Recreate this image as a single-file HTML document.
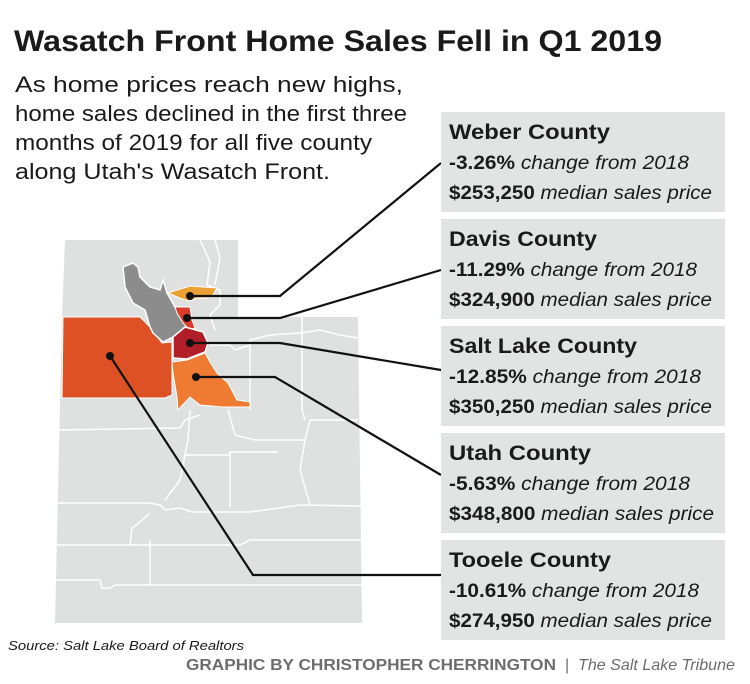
<!DOCTYPE html>
<html><head><meta charset="utf-8"><style>
html,body{margin:0;padding:0;background:#fff;}
svg{display:block;font-family:"Liberation Sans",sans-serif;}
</style></head><body>
<svg width="750" height="684" viewBox="0 0 750 684">
<rect width="750" height="684" fill="#fff"/>
<text x="14" y="51" font-size="30" font-weight="bold" fill="#1a1a1a" textLength="648" lengthAdjust="spacingAndGlyphs">Wasatch Front Home Sales Fell in Q1 2019</text>
<g font-size="22" fill="#1a1a1a">
<text x="15" y="92" textLength="388" lengthAdjust="spacingAndGlyphs">As home prices reach new highs,</text>
<text x="15" y="121" textLength="392" lengthAdjust="spacingAndGlyphs">home sales declined in the first three</text>
<text x="15" y="150" textLength="357" lengthAdjust="spacingAndGlyphs">months of 2019 for all five county</text>
<text x="15" y="179" textLength="315" lengthAdjust="spacingAndGlyphs">along Utah's Wasatch Front.</text>
</g>
<!-- state -->
<polygon points="65,240 238,240 238,317 358,317 362,623 55,623 62,317" fill="#dfe0e0"/>
<g stroke="#fff" stroke-width="1.5" fill="none">
<polyline points="55,430 180,428 185,420 200,415"/>
<polyline points="55,503 150,503 160,505 165,510 180,508 192,512 250,512 300,505 362,506"/>
<polyline points="55,545 240,545 250,540 362,540"/>
<polyline points="55,580 100,580 102,588 110,588 115,585 362,585"/>
<polyline points="150,585 150,540"/>
<polyline points="130,545 132,528 140,522 150,513"/>
<polyline points="230,452 230,507"/>
<polyline points="190,410 188,440 185,455 230,455 230,452 278,452"/>
<polyline points="185,455 180,480 165,500"/>
<polyline points="228,410 235,435 255,440 305,440 310,420 358,420"/>
<polyline points="305,440 300,470 310,505"/>
<polyline points="250,340 250,410"/>
<polyline points="302,317 302,410 305,420"/>
<polyline points="250,340 270,335 300,333 320,330 340,335 358,338"/>
<polyline points="200,240 210,262 207,285 220,290 220,305 210,315 215,330"/>
<polyline points="215,240 220,258 215,285"/>
<polyline points="210,345 230,345 235,350 250,345"/>
</g>
<!-- counties -->
<polygon points="63,317 140,317 150,327 162,343 172,342 172,395 165,398 62,398" fill="#de5125" stroke="#fff" stroke-width="1"/>
<polygon points="123,267 133,263 138,267 140,277 150,287 160,290 163,280 167,293 175,307 183,320 190,328 173,337 163,342 153,333 150,327 145,310 133,303 125,287" fill="#8c8c8c" stroke="#fff" stroke-width="1.5"/>
<polygon points="168,293 177,290 190,286 203,287 217,288 213,295 207,298 197,298 190,301 182,299" fill="#eba034" stroke="#fff" stroke-width="1"/>
<polygon points="175,307 190,307 192,320 195,328 190,330 183,323 177,313" fill="#db3b2b" stroke="#fff" stroke-width="1"/>
<polygon points="173,337 185,327 203,332 208,343 205,352 187,359 173,358" fill="#b11e28" stroke="#fff" stroke-width="1.5"/>
<polygon points="172,362 187,360 205,353 210,362 217,373 228,383 237,400 250,402 250,407 223,407 200,405 190,397 178,410 177,397 173,373" fill="#ef7a31" stroke="#fff" stroke-width="1"/>
<!-- leader lines -->
<g stroke="#111" stroke-width="2.2" fill="none">
<polyline points="190,296 280,296 441,163"/>
<polyline points="187,318 280,318 441,270"/>
<polyline points="190,343 280,343 441,370"/>
<polyline points="196,377 275,377 441,475"/>
<polyline points="110,356 253,575 441,575"/>
</g>
<g fill="#111">
<circle cx="190" cy="296" r="4"/><circle cx="187" cy="318" r="4"/><circle cx="190" cy="343" r="4"/><circle cx="196" cy="377" r="4"/><circle cx="110" cy="356" r="4"/>
</g>
<!-- boxes -->
<g fill="#e2e3e3">
<rect x="441" y="112" width="284" height="100"/>
<rect x="441" y="219" width="284" height="100"/>
<rect x="441" y="326" width="284" height="100"/>
<rect x="441" y="433" width="284" height="100"/>
<rect x="441" y="540" width="284" height="100"/>
</g>
<g fill="#1a1a1a">
<g transform="translate(0,0)">
<text x="449" y="139" font-size="21" font-weight="bold" textLength="161" lengthAdjust="spacingAndGlyphs">Weber County</text>
<text x="449" y="169" font-size="19" textLength="240" lengthAdjust="spacingAndGlyphs"><tspan font-weight="bold">-3.26%</tspan> <tspan font-style="italic">change from 2018</tspan></text>
<text x="449" y="199" font-size="19" textLength="263" lengthAdjust="spacingAndGlyphs"><tspan font-weight="bold">$253,250</tspan> <tspan font-style="italic">median sales price</tspan></text>
</g>
<g transform="translate(0,107)">
<text x="449" y="139" font-size="21" font-weight="bold" textLength="148" lengthAdjust="spacingAndGlyphs">Davis County</text>
<text x="449" y="169" font-size="19" textLength="248" lengthAdjust="spacingAndGlyphs"><tspan font-weight="bold">-11.29%</tspan> <tspan font-style="italic">change from 2018</tspan></text>
<text x="449" y="199" font-size="19" textLength="263" lengthAdjust="spacingAndGlyphs"><tspan font-weight="bold">$324,900</tspan> <tspan font-style="italic">median sales price</tspan></text>
</g>
<g transform="translate(0,214)">
<text x="449" y="139" font-size="21" font-weight="bold" textLength="188" lengthAdjust="spacingAndGlyphs">Salt Lake County</text>
<text x="449" y="169" font-size="19" textLength="252" lengthAdjust="spacingAndGlyphs"><tspan font-weight="bold">-12.85%</tspan> <tspan font-style="italic">change from 2018</tspan></text>
<text x="449" y="199" font-size="19" textLength="263" lengthAdjust="spacingAndGlyphs"><tspan font-weight="bold">$350,250</tspan> <tspan font-style="italic">median sales price</tspan></text>
</g>
<g transform="translate(0,321)">
<text x="449" y="139" font-size="21" font-weight="bold" textLength="142" lengthAdjust="spacingAndGlyphs">Utah County</text>
<text x="449" y="169" font-size="19" textLength="241" lengthAdjust="spacingAndGlyphs"><tspan font-weight="bold">-5.63%</tspan> <tspan font-style="italic">change from 2018</tspan></text>
<text x="449" y="199" font-size="19" textLength="265" lengthAdjust="spacingAndGlyphs"><tspan font-weight="bold">$348,800</tspan> <tspan font-style="italic">median sales price</tspan></text>
</g>
<g transform="translate(0,428)">
<text x="449" y="139" font-size="21" font-weight="bold" textLength="162" lengthAdjust="spacingAndGlyphs">Tooele County</text>
<text x="449" y="169" font-size="19" textLength="250" lengthAdjust="spacingAndGlyphs"><tspan font-weight="bold">-10.61%</tspan> <tspan font-style="italic">change from 2018</tspan></text>
<text x="449" y="199" font-size="19" textLength="263" lengthAdjust="spacingAndGlyphs"><tspan font-weight="bold">$274,950</tspan> <tspan font-style="italic">median sales price</tspan></text>
</g>
</g>
<text x="8" y="650" font-size="13" font-style="italic" fill="#1a1a1a" textLength="236" lengthAdjust="spacingAndGlyphs">Source: Salt Lake Board of Realtors</text>
<text x="186" y="670" font-size="16" font-weight="bold" fill="#6d6d6d" textLength="370" lengthAdjust="spacingAndGlyphs">GRAPHIC BY CHRISTOPHER CHERRINGTON</text>
<text x="565" y="670" font-size="16" fill="#6d6d6d">|</text>
<text x="578" y="670" font-size="16" font-style="italic" fill="#6d6d6d" textLength="157" lengthAdjust="spacingAndGlyphs">The Salt Lake Tribune</text>
</svg>
</body></html>
